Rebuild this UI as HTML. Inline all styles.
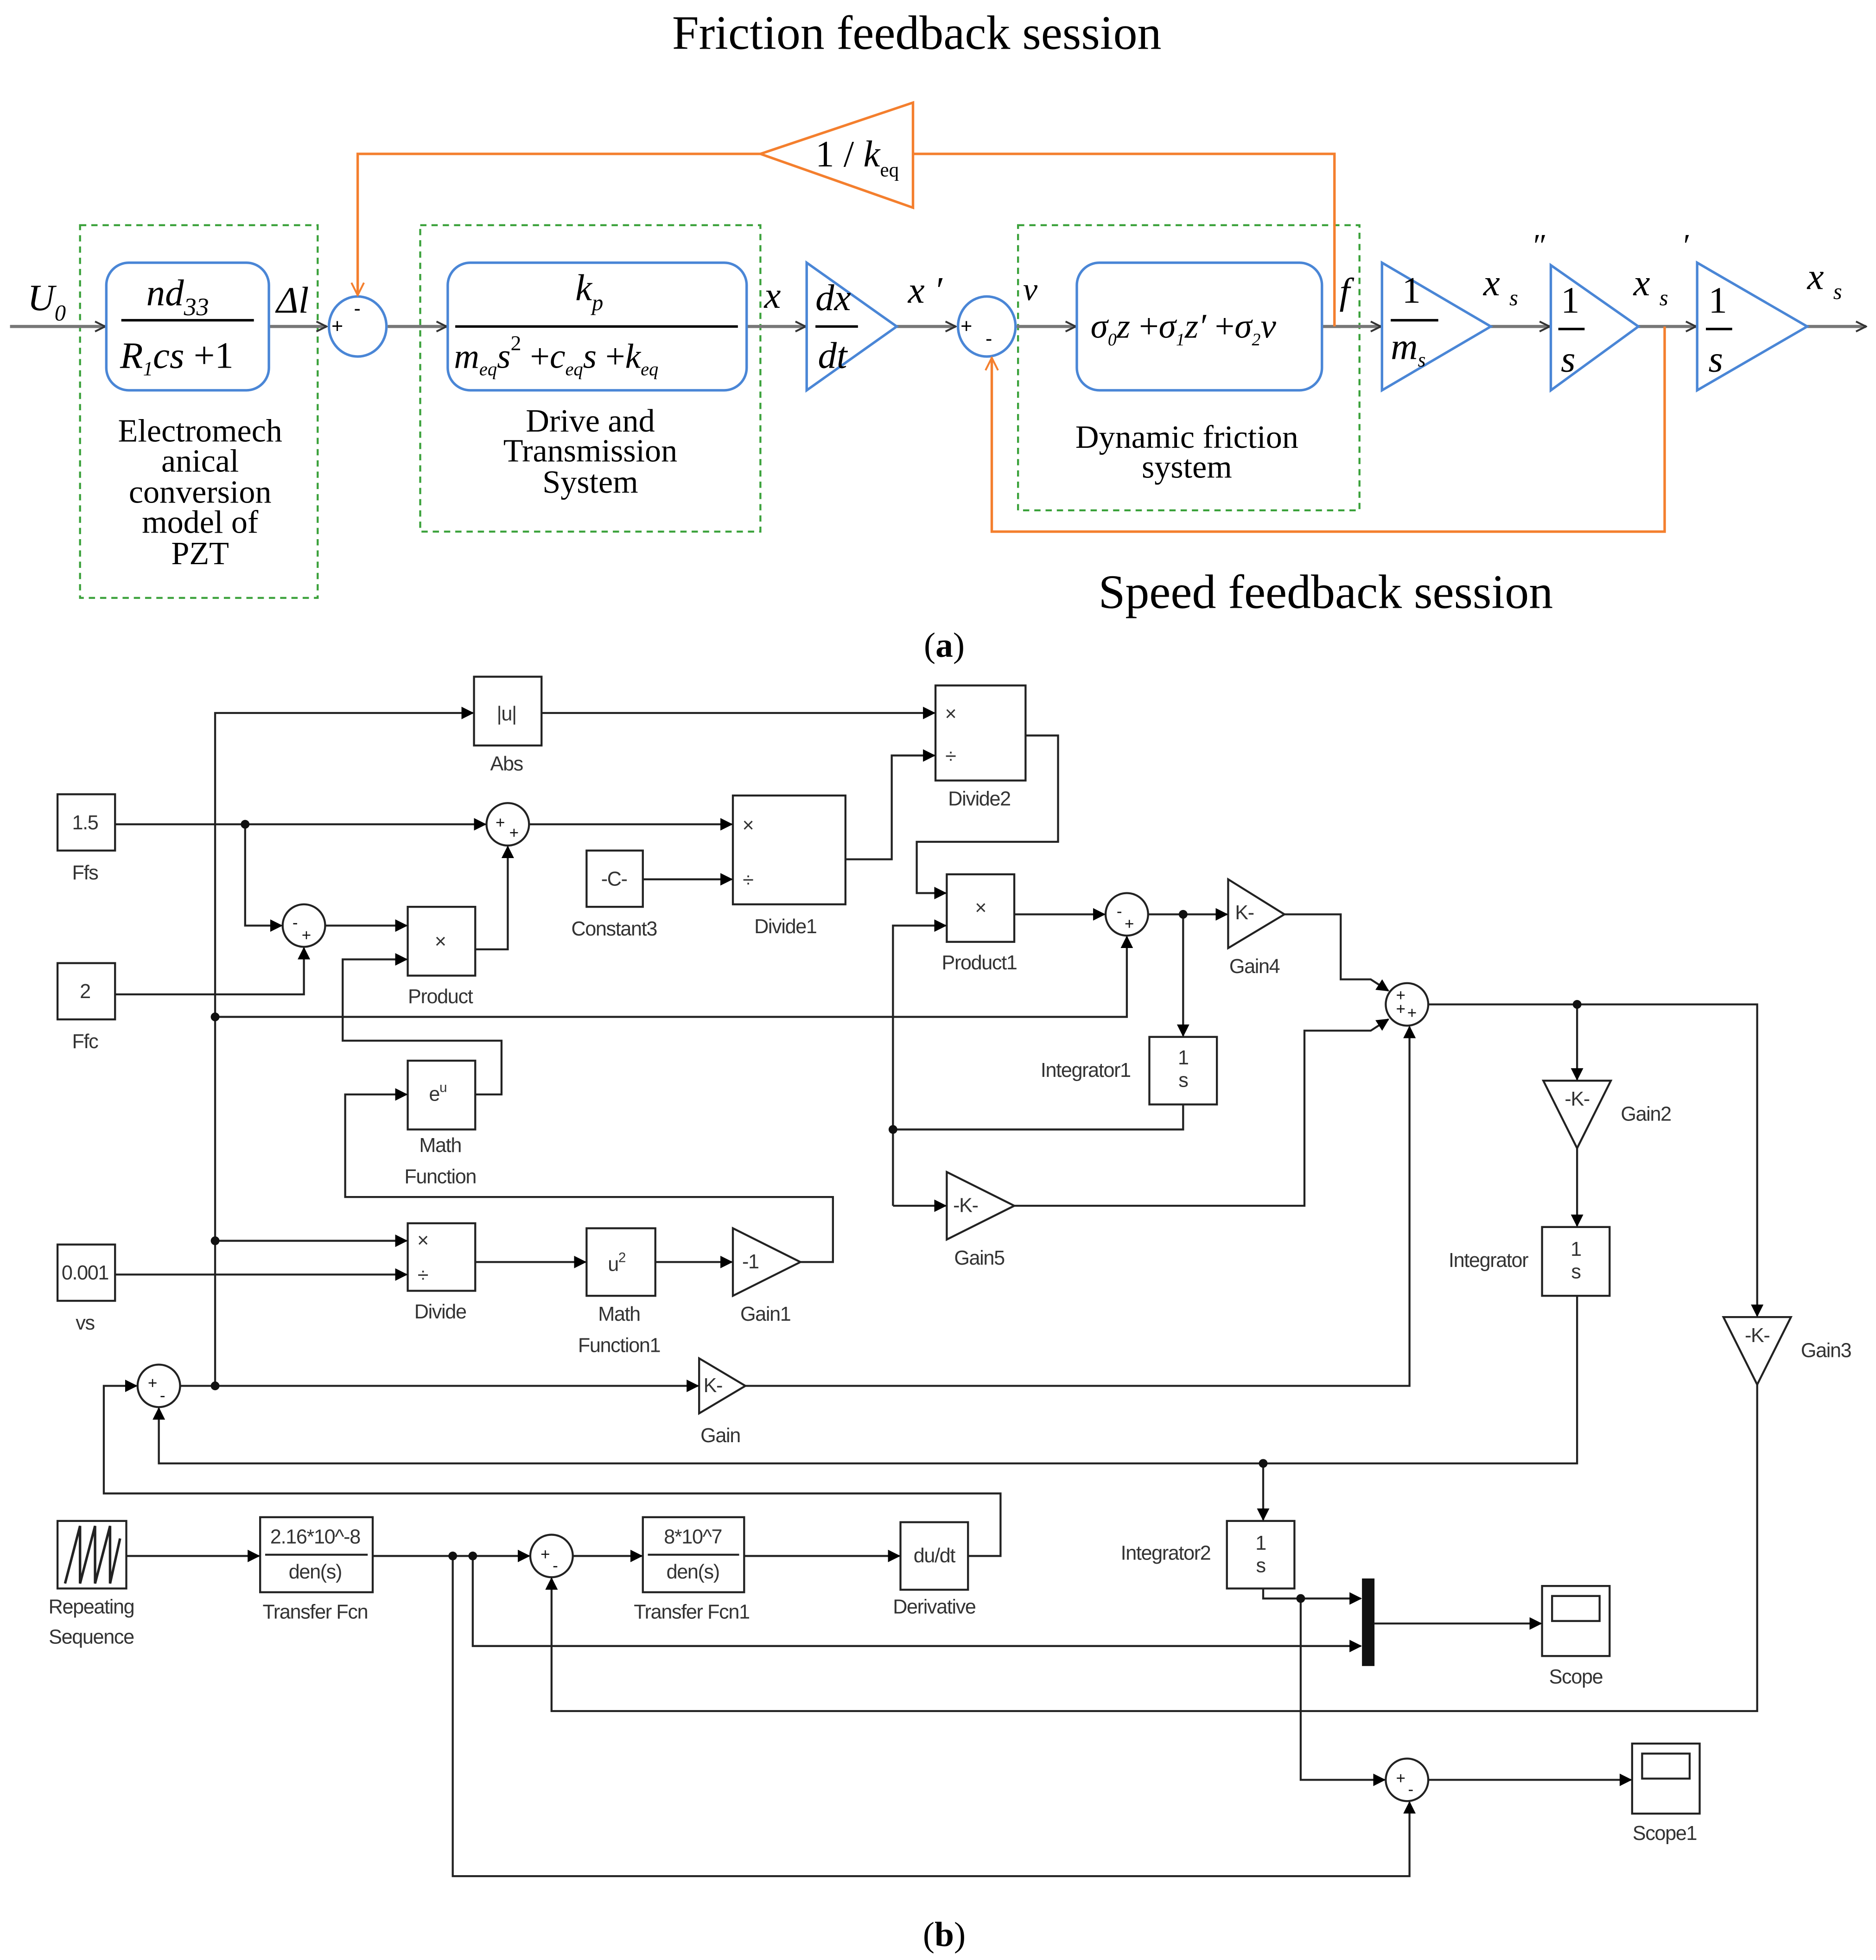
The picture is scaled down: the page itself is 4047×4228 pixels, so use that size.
<!DOCTYPE html>
<html><head><meta charset="utf-8"><style>html,body{margin:0;padding:0;background:#fff}svg{display:block}</style></head><body>
<svg width="4047" height="4228" viewBox="0 0 1500 1567" xmlns="http://www.w3.org/2000/svg">
<defs>
<marker id="ab" markerWidth="10" markerHeight="10" refX="9" refY="5" orient="auto" markerUnits="userSpaceOnUse"><path d="M0,0 L10,5 L0,10 z" fill="#000"/></marker>
<marker id="ao" markerWidth="10" markerHeight="10" refX="9" refY="5" orient="auto" markerUnits="userSpaceOnUse"><path d="M1,1 L9,5 L1,9" fill="none" stroke="#333" stroke-width="1.5"/></marker>
<marker id="ar" markerWidth="12" markerHeight="12" refX="11" refY="6" orient="auto" markerUnits="userSpaceOnUse"><path d="M1,1 L11,6 L1,11" fill="none" stroke="#f47f2e" stroke-width="1.5"/></marker>
</defs>
<rect width="1500" height="1567" fill="#fff"/>
<!-- PART A -->
<g font-family="Liberation Serif, serif" fill="#000">
<text x="733" y="39" font-size="38.5" text-anchor="middle">Friction feedback session</text>
<text x="1060" y="486" font-size="38.5" text-anchor="middle">Speed feedback session</text>
<text x="755" y="525" font-size="28" text-anchor="middle">(<tspan font-weight="bold">a</tspan>)</text>
<text x="755" y="1556" font-size="28" text-anchor="middle">(<tspan font-weight="bold">b</tspan>)</text>
</g>
<g fill="none" stroke="#3aa13a" stroke-width="1.6" stroke-dasharray="5,4">
<rect x="64" y="180" width="190" height="298"/>
<rect x="336" y="180" width="272" height="245"/>
<rect x="814" y="180" width="273" height="228"/>
</g>
<g stroke="#777" stroke-width="2.5" fill="none">
<line x1="8" y1="261" x2="84" y2="261" marker-end="url(#ao)"/>
<line x1="215" y1="261" x2="261" y2="261" marker-end="url(#ao)"/>
<line x1="310" y1="261" x2="357" y2="261" marker-end="url(#ao)"/>
<line x1="597" y1="261" x2="644" y2="261" marker-end="url(#ao)"/>
<line x1="717" y1="261" x2="764" y2="261" marker-end="url(#ao)"/>
<line x1="813" y1="261" x2="860" y2="261" marker-end="url(#ao)"/>
<line x1="1057" y1="261" x2="1104" y2="261" marker-end="url(#ao)"/>
<line x1="1192" y1="261" x2="1239" y2="261" marker-end="url(#ao)"/>
<line x1="1310" y1="261" x2="1356" y2="261" marker-end="url(#ao)"/>
<line x1="1445" y1="261" x2="1492" y2="261" marker-end="url(#ao)"/>
</g>
<g fill="none" stroke="#4a86d6" stroke-width="2">
<rect x="85" y="210" width="130" height="102" rx="18"/>
<rect x="358" y="210" width="239" height="102" rx="18"/>
<rect x="861" y="210" width="196" height="102" rx="18"/>
<ellipse cx="286" cy="261" rx="23" ry="24"/>
<ellipse cx="789" cy="261" rx="23" ry="24"/>
<polygon points="645,210 645,312 717,261"/>
<polygon points="1105,210 1105,312 1192,261"/>
<polygon points="1240,212 1240,312 1310,261"/>
<polygon points="1357,210 1357,312 1445,261"/>
</g>
<g fill="none" stroke="#f47f2e" stroke-width="2">
<polygon points="608,123 730,82 730,166"/>
<polyline points="1067,261 1067,123 730,123"/>
<polyline points="608,123 286,123 286,236" marker-end="url(#ar)"/>
<polyline points="1331,261 1331,425 793,425 793,286" marker-end="url(#ar)"/>
</g>
<g stroke="#000" stroke-width="2">
<line x1="97" y1="256" x2="203" y2="256"/>
<line x1="364" y1="261" x2="590" y2="261"/>
<line x1="652" y1="261" x2="686" y2="261"/>
<line x1="1112" y1="256" x2="1150" y2="256"/>
<line x1="1246" y1="263" x2="1267" y2="263"/>
<line x1="1364" y1="263" x2="1385" y2="263"/>
</g>
<g font-family="Liberation Serif, serif" font-style="italic" font-size="30" fill="#000">
<text x="22" y="248">U<tspan font-size="18" dy="8">0</tspan></text>
<text x="117" y="244">nd<tspan font-size="20" dy="8">33</tspan></text>
<text x="96" y="294">R<tspan font-size="16" dy="6">1</tspan><tspan dy="-6">cs</tspan><tspan font-style="normal"> +1</tspan></text>
<text x="221" y="250">Δl</text>
<text x="460" y="240">k<tspan font-size="18" dy="8">p</tspan></text>
<text x="363" y="294" font-size="28">m<tspan font-size="15" dy="6">eq</tspan><tspan dy="-6">s</tspan><tspan font-size="17" dy="-14" font-style="normal">2</tspan><tspan dy="14" font-style="normal"> +</tspan>c<tspan font-size="15" dy="6">eq</tspan><tspan dy="-6">s</tspan><tspan font-style="normal"> +</tspan>k<tspan font-size="15" dy="6">eq</tspan></text>
<text x="611" y="246">x</text>
<text x="652" y="248">dx</text>
<text x="654" y="294">dt</text>
<text x="726" y="242">x ′</text>
<text x="818" y="240" font-size="26">v</text>
<text x="872" y="270" font-size="28">σ<tspan font-size="14" dy="6">0</tspan><tspan dy="-6">z</tspan><tspan font-style="normal"> +</tspan>σ<tspan font-size="14" dy="6">1</tspan><tspan dy="-6">z′</tspan><tspan font-style="normal"> +</tspan>σ<tspan font-size="14" dy="6">2</tspan><tspan dy="-6">v</tspan></text>
<text x="1071" y="243">f</text>
<text x="1121" y="242" font-style="normal">1</text>
<text x="1112" y="287">m<tspan font-size="16" dy="6">s</tspan></text>
<text x="1186" y="236">x <tspan font-size="18" dy="8">s</tspan></text>
<text x="1226" y="205" font-style="normal" font-size="26">″</text>
<text x="1248" y="250" font-style="normal">1</text>
<text x="1248" y="297">s</text>
<text x="1306" y="236">x <tspan font-size="18" dy="8">s</tspan></text>
<text x="1346" y="205" font-style="normal" font-size="26">′</text>
<text x="1366" y="250" font-style="normal">1</text>
<text x="1366" y="297">s</text>
<text x="1445" y="231">x <tspan font-size="18" dy="8">s</tspan></text>
<text x="652" y="133" font-style="normal">1 / <tspan font-style="italic">k</tspan><tspan font-size="16" dy="8">eq</tspan></text>
</g>
<g font-family="Liberation Sans, sans-serif" font-size="16" fill="#000">
<text x="265" y="266">+</text><text x="283" y="252">-</text>
<text x="768" y="266">+</text><text x="788" y="276">-</text>
</g>
<g font-family="Liberation Serif, serif" font-size="26" fill="#000" text-anchor="middle">
<text x="160" y="353">Electromech</text><text x="160" y="377">anical</text><text x="160" y="402">conversion</text><text x="160" y="426">model of</text><text x="160" y="451">PZT</text>
<text x="472" y="345">Drive and</text><text x="472" y="369">Transmission</text><text x="472" y="394">System</text>
<text x="949" y="358">Dynamic friction</text><text x="949" y="382">system</text>
</g>
<!-- PART B -->
<g fill="none" stroke="#222" stroke-width="1.6">
<rect x="379" y="541" width="54" height="55"/>
<rect x="748" y="548" width="72" height="76"/>
<rect x="46" y="635" width="46" height="45"/>
<rect x="586" y="636" width="90" height="87"/>
<rect x="469" y="680" width="45" height="45"/>
<rect x="326" y="725" width="54" height="55"/>
<rect x="757" y="699" width="54" height="54"/>
<rect x="46" y="770" width="46" height="45"/>
<rect x="919" y="829" width="54" height="54"/>
<rect x="326" y="848" width="54" height="55"/>
<rect x="46" y="995" width="46" height="45"/>
<rect x="326" y="978" width="54" height="54"/>
<rect x="469" y="982" width="55" height="54"/>
<rect x="1233" y="981" width="54" height="55"/>
<rect x="46" y="1216" width="55" height="54"/>
<rect x="208" y="1213" width="90" height="60"/>
<rect x="514" y="1213" width="81" height="60"/>
<rect x="720" y="1217" width="54" height="54"/>
<rect x="981" y="1216" width="54" height="54"/>
<rect x="1233" y="1268" width="54" height="56"/>
<rect x="1305" y="1394" width="54" height="56"/>
<rect x="1241" y="1276" width="38" height="20"/>
<rect x="1313" y="1402" width="38" height="20"/>
<circle cx="406" cy="659" r="17"/>
<circle cx="243" cy="740" r="17"/>
<circle cx="901" cy="731" r="17"/>
<circle cx="1125" cy="803" r="17"/>
<circle cx="127" cy="1108" r="17"/>
<circle cx="441" cy="1244" r="17"/>
<circle cx="1125" cy="1423" r="17"/>
<polygon points="982,703 982,758 1027,731"/>
<polygon points="1234,864 1288,864 1261,918"/>
<polygon points="757,937 757,991 811,964"/>
<polygon points="586,982 586,1036 640,1009"/>
<polygon points="1378,1053 1432,1053 1405,1107"/>
<polygon points="559,1086 559,1130 596,1108"/>
<polyline points="52,1266 64,1220 64,1266 76,1220 76,1266 88,1220 88,1266 96,1230" stroke-width="2"/>
<line x1="212" y1="1243" x2="294" y2="1243"/>
<line x1="518" y1="1243" x2="591" y2="1243"/>
</g>
<rect x="1089" y="1262" width="10" height="70" fill="#111"/>
<g fill="none" stroke="#222" stroke-width="1.6">
<polyline points="172,1108 172,570 378,570" marker-end="url(#ab)"/>
<polyline points="172,813 901,813 901,749" marker-end="url(#ab)"/>
<polyline points="172,992 325,992" marker-end="url(#ab)"/>
<polyline points="144,1108 558,1108" marker-end="url(#ab)"/>
<polyline points="433,570 747,570" marker-end="url(#ab)"/>
<polyline points="92,659 388,659" marker-end="url(#ab)"/>
<polyline points="196,659 196,740 225,740" marker-end="url(#ab)"/>
<polyline points="423,659 585,659" marker-end="url(#ab)"/>
<polyline points="380,759 406,759 406,677" marker-end="url(#ab)"/>
<polyline points="260,740 325,740" marker-end="url(#ab)"/>
<polyline points="92,795 243,795 243,758" marker-end="url(#ab)"/>
<polyline points="514,703 585,703" marker-end="url(#ab)"/>
<polyline points="676,687 713,687 713,604 747,604" marker-end="url(#ab)"/>
<polyline points="820,588 846,588 846,673 733,673 733,714 756,714" marker-end="url(#ab)"/>
<polyline points="811,731 883,731" marker-end="url(#ab)"/>
<polyline points="918,731 981,731" marker-end="url(#ab)"/>
<polyline points="946,731 946,828" marker-end="url(#ab)"/>
<polyline points="946,883 946,903 714,903"/>
<polyline points="714,964 714,740 756,740" marker-end="url(#ab)"/>
<polyline points="714,964 756,964" marker-end="url(#ab)"/>
<polyline points="1027,731 1072,731 1072,783 1096,783 1110,792" marker-end="url(#ab)"/>
<polyline points="811,964 1043,964 1043,824 1096,824 1110,815" marker-end="url(#ab)"/>
<polyline points="596,1108 1127,1108 1127,821" marker-end="url(#ab)"/>
<polyline points="1142,803 1405,803 1405,1052" marker-end="url(#ab)"/>
<polyline points="1261,803 1261,863" marker-end="url(#ab)"/>
<polyline points="1261,918 1261,980" marker-end="url(#ab)"/>
<polyline points="1261,1036 1261,1170 127,1170 127,1126" marker-end="url(#ab)"/>
<polyline points="1010,1170 1010,1215" marker-end="url(#ab)"/>
<polyline points="380,875 401,875 401,832 274,832 274,767 325,767" marker-end="url(#ab)"/>
<polyline points="640,1009 666,1009 666,957 276,957 276,875 325,875" marker-end="url(#ab)"/>
<polyline points="92,1019 325,1019" marker-end="url(#ab)"/>
<polyline points="380,1009 468,1009" marker-end="url(#ab)"/>
<polyline points="524,1009 585,1009" marker-end="url(#ab)"/>
<polyline points="774,1244 800,1244 800,1194 83,1194 83,1108 109,1108" marker-end="url(#ab)"/>
<polyline points="101,1244 207,1244" marker-end="url(#ab)"/>
<polyline points="298,1244 423,1244" marker-end="url(#ab)"/>
<polyline points="378,1244 378,1316 1088,1316" marker-end="url(#ab)"/>
<polyline points="362,1244 362,1500 1127,1500 1127,1441" marker-end="url(#ab)"/>
<polyline points="458,1244 513,1244" marker-end="url(#ab)"/>
<polyline points="595,1244 719,1244" marker-end="url(#ab)"/>
<polyline points="1405,1107 1405,1368 441,1368 441,1262" marker-end="url(#ab)"/>
<polyline points="1010,1270 1010,1278 1088,1278" marker-end="url(#ab)"/>
<polyline points="1040,1278 1040,1423 1107,1423" marker-end="url(#ab)"/>
<polyline points="1099,1298 1232,1298" marker-end="url(#ab)"/>
<polyline points="1142,1423 1304,1423" marker-end="url(#ab)"/>
</g>
<g fill="#111">
<circle cx="172" cy="813" r="3.5"/><circle cx="172" cy="992" r="3.5"/><circle cx="172" cy="1108" r="3.5"/>
<circle cx="196" cy="659" r="3.5"/><circle cx="946" cy="731" r="3.5"/><circle cx="714" cy="903" r="3.5"/>
<circle cx="1261" cy="803" r="3.5"/><circle cx="1010" cy="1170" r="3.5"/><circle cx="362" cy="1244" r="3.5"/>
<circle cx="378" cy="1244" r="3.5"/><circle cx="1040" cy="1278" r="3.5"/>
</g>
<g font-family="Liberation Sans, sans-serif" font-size="16" fill="#333" text-anchor="middle" letter-spacing="-0.5">
<text x="405" y="576">|u|</text><text x="405" y="616">Abs</text>
<text x="760" y="576">×</text><text x="760" y="610">÷</text><text x="783" y="644">Divide2</text>
<text x="68" y="663">1.5</text><text x="68" y="703">Ffs</text>
<text x="598" y="665">×</text><text x="598" y="709">÷</text><text x="628" y="746">Divide1</text>
<text x="491" y="708">-C-</text><text x="491" y="748">Constant3</text>
<text x="352" y="758">×</text><text x="352" y="802">Product</text>
<text x="784" y="731">×</text><text x="783" y="775">Product1</text>
<text x="68" y="798">2</text><text x="68" y="838">Ffc</text>
<text x="995" y="735">K-</text><text x="1003" y="778">Gain4</text>
<text x="946" y="851">1</text><text x="946" y="869">s</text><text x="868" y="861">Integrator1</text>
<text x="350" y="880">e<tspan font-size="11" dy="-7">u</tspan></text><text x="352" y="921">Math</text><text x="352" y="946">Function</text>
<text x="1261" y="884">-K-</text><text x="1316" y="896">Gain2</text>
<text x="772" y="969">-K-</text><text x="783" y="1011">Gain5</text>
<text x="68" y="1023">0.001</text><text x="68" y="1063">vs</text>
<text x="338" y="997">×</text><text x="338" y="1025">÷</text><text x="352" y="1054">Divide</text>
<text x="493" y="1016">u<tspan font-size="11" dy="-7">2</tspan></text><text x="495" y="1056">Math</text><text x="495" y="1081">Function1</text>
<text x="600" y="1014">-1</text><text x="612" y="1056">Gain1</text>
<text x="1260" y="1004">1</text><text x="1260" y="1022">s</text><text x="1190" y="1013">Integrator</text>
<text x="1405" y="1073">-K-</text><text x="1460" y="1085">Gain3</text>
<text x="570" y="1113">K-</text><text x="576" y="1153">Gain</text>
<text x="73" y="1290">Repeating</text><text x="73" y="1314">Sequence</text>
<text x="252" y="1234">2.16*10^-8</text><text x="252" y="1262">den(s)</text><text x="252" y="1294">Transfer Fcn</text>
<text x="554" y="1234">8*10^7</text><text x="554" y="1262">den(s)</text><text x="553" y="1294">Transfer Fcn1</text>
<text x="747" y="1249">du/dt</text><text x="747" y="1290">Derivative</text>
<text x="1008" y="1239">1</text><text x="1008" y="1257">s</text><text x="932" y="1247">Integrator2</text>
<text x="1260" y="1346">Scope</text><text x="1331" y="1471">Scope1</text>
</g>
<g font-family="Liberation Sans, sans-serif" font-size="13" fill="#111" text-anchor="middle">
<text x="400" y="662">+</text><text x="411" y="670">+</text>
<text x="236" y="742">-</text><text x="245" y="752">+</text>
<text x="895" y="733">-</text><text x="903" y="743">+</text>
<text x="1120" y="800">+</text><text x="1120" y="811">+</text><text x="1129" y="814">+</text>
<text x="122" y="1110">+</text><text x="130" y="1120">-</text>
<text x="436" y="1247">+</text><text x="444" y="1256">-</text>
<text x="1120" y="1426">+</text><text x="1128" y="1435">-</text>
</g>
</svg>
</body></html>
